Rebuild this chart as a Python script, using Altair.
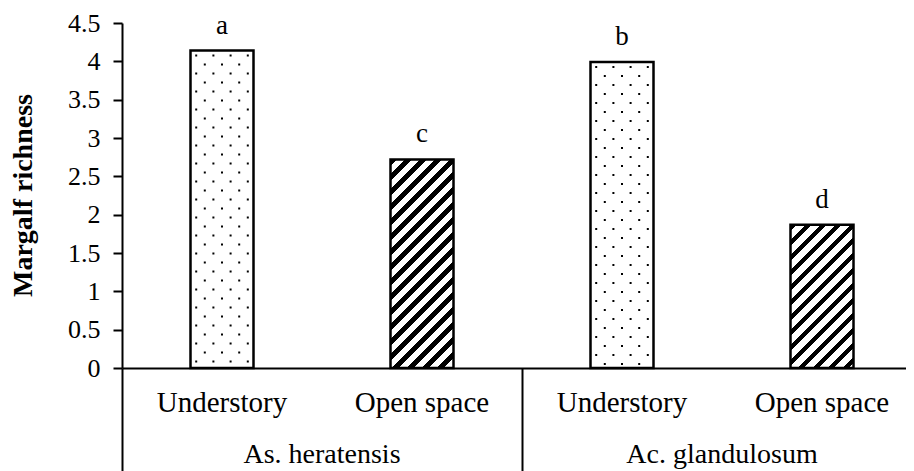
import altair as alt
import pandas as pd

# ---- data ----
species = ["As. heratensis", "As. heratensis", "Ac. glandulosum", "Ac. glandulosum"]
habitats = ["Understory", "Open space", "Understory", "Open space"]
richness = [4.14, 2.72, 3.99, 1.87]
letters = ["a", "c", "b", "d"]
positions = [0.5, 1.5, 2.5, 3.5]          # category slots on the x scale
group_names = ["As. heratensis", "Ac. glandulosum"]
group_centers = [1, 3]
y_ticks = [0, 0.5, 1, 1.5, 2, 2.5, 3, 3.5, 4, 4.5]

# ---- layout / style ----
W, H = 784, 345
YMAX = 4.5
BAR_W = 63
FONT = "Liberation Serif"

df = pd.DataFrame({"species": species, "habitat": habitats, "richness": richness,
                   "letter": letters, "pos": positions})
groups = pd.DataFrame({"name": group_names, "pos": group_centers})
under = df[df["habitat"] == "Understory"]
open_rows = [df.iloc[[i]] for i in range(len(df)) if habitats[i] == "Open space"]

x_enc = alt.X("pos:Q",
              scale=alt.Scale(domain=[0, W / 200], nice=False, zero=False, padding=0),
              axis=alt.Axis(title=None, labels=False, grid=False, values=[0, 2, 4],
                            tickSize=103, tickWidth=2, tickColor="black",
                            domainColor="black", domainWidth=2))
y_enc = alt.Y("richness:Q",
              scale=alt.Scale(domain=[0, YMAX], nice=False),
              axis=alt.Axis(values=y_ticks, format="~g", grid=False,
                            domainColor="black", domainWidth=2,
                            tickColor="black", tickWidth=2, tickSize=9,
                            labelFont=FONT, labelFontSize=26, labelColor="black",
                            labelPadding=13,
                            title="Margalf richness", titleFont=FONT, titleFontSize=28,
                            titleFontWeight="bold", titleColor="black", titleAngle=-90,
                            titleX=-99, titleY=172, titleAlign="center",
                            titleBaseline="middle"))


def hatch(value):
    """Linear gradient with hard stops that draws 45-degree '/' stripes."""
    h = value / YMAX * H
    w = BAR_W
    s = (w + h) / (w * w + h * h)
    period = 15.0 / (w + h)
    stops = []
    t = 0.0
    while t < 1:
        b = min(t + 0.42 * period, 1)
        c = min(t + period, 1)
        stops += [{"offset": round(t, 5), "color": "black"},
                  {"offset": round(b, 5), "color": "black"},
                  {"offset": round(b, 5), "color": "white"},
                  {"offset": round(c, 5), "color": "white"}]
        t += period
    return {"gradient": "linear", "x1": 0, "y1": 0, "x2": s * w, "y2": s * h,
            "stops": stops}


layers = []

# dotted (Understory) bars
layers.append(alt.Chart(under).mark_bar(orient="vertical", size=BAR_W, fill="white",
                                         stroke="black", strokeWidth=2.5)
              .encode(x=x_enc, y=y_enc))
for k in range(7):
    layers.append(alt.Chart(under).mark_rule(color="black", strokeWidth=2,
                                              strokeDash=[2, 16],
                                              strokeDashOffset=14 if k % 2 == 0 else 5,
                                              xOffset=(k - 3) * 8.6, strokeCap="butt")
                  .encode(x=x_enc, y=y_enc, y2=alt.datum(0)))

# hatched (Open space) bars
for row in open_rows:
    layers.append(alt.Chart(row).mark_bar(orient="vertical", size=BAR_W,
                                          fill=hatch(float(row["richness"].iloc[0])),
                                          stroke="black", strokeWidth=2.5)
                  .encode(x=x_enc, y=y_enc))

# significance letters
layers.append(alt.Chart(df).mark_text(font=FONT, fontSize=27, baseline="alphabetic",
                                      dy=-17, color="black")
              .encode(x=x_enc, y=y_enc, text="letter:N"))

# category labels
layers.append(alt.Chart(df).mark_text(font=FONT, fontSize=29, baseline="alphabetic",
                                      color="black")
              .encode(x=x_enc, y=alt.value(389), text="habitat:N"))
layers.append(alt.Chart(groups).mark_text(font=FONT, fontSize=28, baseline="alphabetic",
                                          color="black")
              .encode(x=x_enc, y=alt.value(440), text="name:N"))

chart = (alt.layer(*layers)
         .properties(width=W, height=H,
                     padding={"left": 114, "top": 15, "right": 0, "bottom": 103},
                     autosize=alt.AutoSizeParams(type="none"))
         .configure_view(stroke=None))

chart.save("out.html", embed_options={"renderer": "svg", "actions": False})
